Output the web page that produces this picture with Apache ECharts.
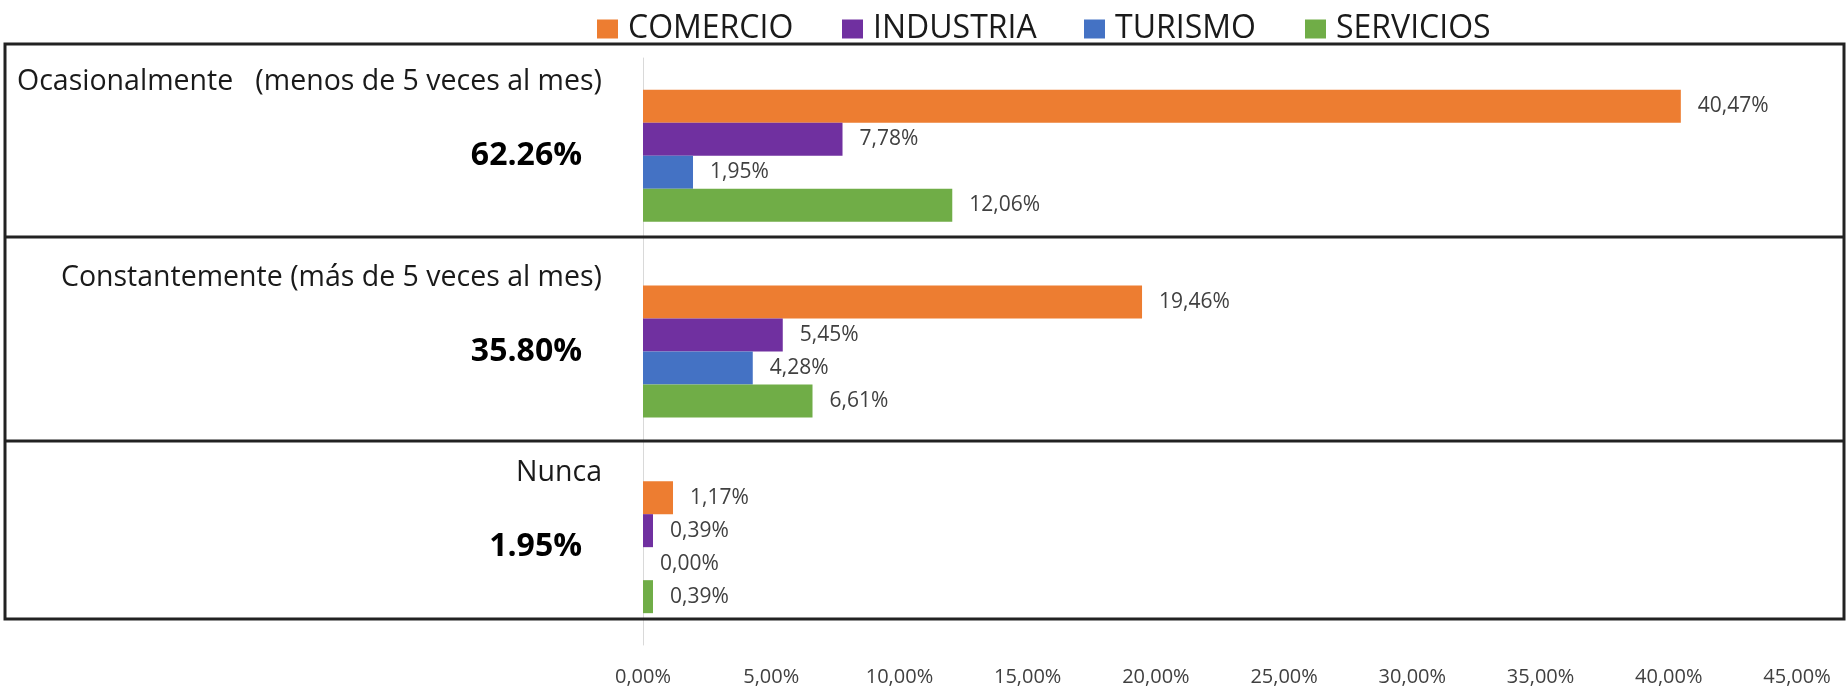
<!DOCTYPE html>
<html>
<head>
<meta charset="utf-8">
<script src="https://cdn.jsdelivr.net/npm/echarts@6/dist/echarts.min.js"></script>
<style>
  html, body { margin: 0; padding: 0; background: #fff; }
  #chart { width: 1847px; height: 691px; }
</style>
</head>
<body>
<div id="chart"></div>
<script>
// datos
var categorias = ['Ocasionalmente   (menos de 5 veces al mes)', 'Constantemente (más de 5 veces al mes)', 'Nunca'];
var totales = ['62.26%', '35.80%', '1.95%'];
var sectores = ['COMERCIO', 'INDUSTRIA', 'TURISMO', 'SERVICIOS'];
var comercio = [40.47, 19.46, 1.17];
var industria = [7.78, 5.45, 0.39];
var turismo = [1.95, 4.28, 0.00];
var servicios = [12.06, 6.61, 0.39];
var ejeMax = 45;
var ejePaso = 5;

var fuente = 'Open Sans';
var colores = ['#ED7D31', '#7030A0', '#4472C4', '#70AD47'];
var leyendaX = [592, 837, 1079, 1300];

function pct(v) {
    return v.toFixed(2).replace('.', ',') + '%';
}

function serie(nombre, datos, color) {
    return {
        name: nombre,
        type: 'bar',
        data: datos,
        barWidth: 33,
        barGap: '0%',
        itemStyle: { color: color },
        label: {
            show: true,
            position: 'right',
            distance: 17,
            color: '#404040',
            fontFamily: fuente,
            fontSize: 21,
            formatter: function (p) { return pct(p.value); }
        }
    };
}

// una leyenda por sector para poder colocarlas igual que en el original
var leyendas = sectores.map(function (s, i) {
    return {
        left: leyendaX[i],
        top: 8,
        itemWidth: 21,
        itemHeight: 19,
        icon: 'rect',
        textStyle: {
            fontFamily: fuente,
            fontSize: 32,
            color: '#1a1a1a',
            padding: [0, 0, 0, 5]
        },
        data: [s]
    };
});

var myChart = echarts.init(document.getElementById('chart'));
var option = {
    animation: false,
    backgroundColor: '#fff',
    legend: leyendas,
    grid: {
        left: 643,
        right: 50,
        top: 58,
        bottom: 46
    },
    xAxis: {
        type: 'value',
        min: 0,
        max: ejeMax,
        interval: ejePaso,
        splitLine: { show: false },
        axisLine: { show: false },
        axisTick: { show: false },
        axisLabel: {
            margin: 22,
            color: '#404040',
            fontFamily: fuente,
            fontSize: 20,
            formatter: function (v) { return pct(v); }
        }
    },
    yAxis: {
        type: 'category',
        inverse: true,
        data: categorias,
        axisTick: { show: false },
        axisLine: { show: true, lineStyle: { color: '#d9d9d9', width: 1 } },
        axisLabel: {
            interval: 0,
            margin: 41,
            formatter: function (v, i) {
                return '{a|' + v + '}\n{b|' + totales[i] + '}\n{c| }';
            },
            rich: {
                a: { fontFamily: fuente, fontSize: 28.5, color: '#1a1a1a', lineHeight: 30, align: 'right' },
                b: { fontFamily: fuente, fontSize: 32, fontWeight: 'bold', color: '#000', lineHeight: 118, align: 'right', padding: [0, 20, 0, 0] },
                c: { fontSize: 10, lineHeight: 30 }
            }
        }
    },
    graphic: [
        { type: 'rect', z: 100, shape: { x: 5, y: 44, width: 1839, height: 575 }, style: { fill: null, stroke: '#222', lineWidth: 3 } },
        { type: 'line', z: 100, shape: { x1: 5, y1: 237, x2: 1844, y2: 237 }, style: { stroke: '#222', lineWidth: 3 } },
        { type: 'line', z: 100, shape: { x1: 5, y1: 441, x2: 1844, y2: 441 }, style: { stroke: '#222', lineWidth: 3 } }
    ],
    series: [
        serie(sectores[0], comercio, colores[0]),
        serie(sectores[1], industria, colores[1]),
        serie(sectores[2], turismo, colores[2]),
        serie(sectores[3], servicios, colores[3])
    ]
};
myChart.setOption(option);
</script>
</body>
</html>
